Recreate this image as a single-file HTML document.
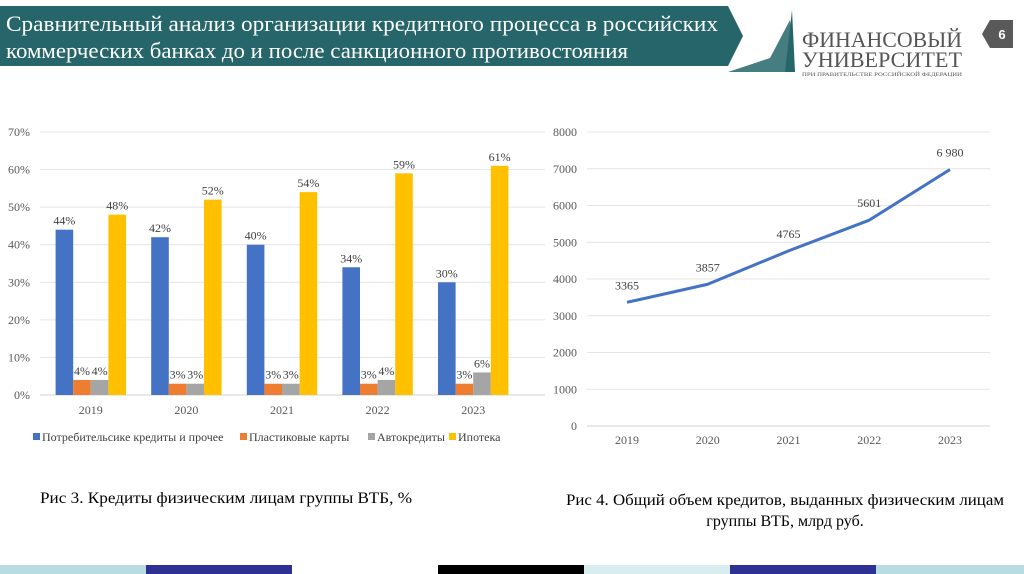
<!DOCTYPE html>
<html><head><meta charset="utf-8"><style>
body{margin:0;width:1024px;height:574px;background:#fff;position:relative;overflow:hidden;font-family:"Liberation Serif",serif}
svg text{font-family:"Liberation Serif",serif}
</style></head><body>
<svg width="1024" height="574" style="position:absolute;left:0;top:0">
<polygon points="0,6 728,6 743,36 728,66 0,66" fill="#26666a"/>
<text x="6" y="31" font-size="22" fill="#fff" textLength="712" lengthAdjust="spacingAndGlyphs">Сравнительный анализ организации кредитного процесса в российских</text>
<text x="6" y="58" font-size="22" fill="#fff" textLength="622" lengthAdjust="spacingAndGlyphs">коммерческих банках до и после санкционного противостояния</text>
<g>
<polygon points="728,72 795,72 790,20 770,58" fill="#26666a" opacity="0.85"/>
<polygon points="785,72 792,10 795,72" fill="#26666a"/>
<text x="802" y="47" font-size="22" fill="#555" textLength="160" lengthAdjust="spacingAndGlyphs">ФИНАНСОВЫЙ</text>
<text x="802" y="67" font-size="22" fill="#555" textLength="160" lengthAdjust="spacingAndGlyphs">УНИВЕРСИТЕТ</text>
<text x="802" y="76" font-size="5" fill="#555" textLength="160" lengthAdjust="spacingAndGlyphs">ПРИ ПРАВИТЕЛЬСТВЕ РОССИЙСКОЙ ФЕДЕРАЦИИ</text>
</g>
<polygon points="982,34 990,20 1013,20 1013,48 990,48" fill="#595959"/>
<text x="1002" y="39" font-size="13" font-weight="bold" fill="#fff" text-anchor="middle" style="font-family:'Liberation Sans',sans-serif">6</text>
<g id="left"></g>
<g id="right"></g>
<text x="40" y="503" font-size="16" fill="#000" textLength="372" lengthAdjust="spacingAndGlyphs">Рис 3. Кредиты физическим лицам группы ВТБ, %</text>
<text x="785" y="505" font-size="16" fill="#000" text-anchor="middle" textLength="438" lengthAdjust="spacingAndGlyphs">Рис 4. Общий объем кредитов, выданных физическим лицам</text>
<text x="785" y="526" font-size="16" fill="#000" text-anchor="middle">группы ВТБ, млрд руб.</text>
<g>
<rect x="0" y="565" width="146" height="9" fill="#b7dde2"/><rect x="146" y="565" width="146" height="9" fill="#2e3192"/>
<rect x="438" y="565" width="146" height="9" fill="#000"/><rect x="584" y="565" width="146" height="9" fill="#d8eded"/>
<rect x="730" y="565" width="146" height="9" fill="#2e3192"/><rect x="876" y="565" width="148" height="9" fill="#b7dde2"/>
</g>
</svg>
<script>
const NS="http://www.w3.org/2000/svg";
const years=["2019","2020","2021","2022","2023"];
const consumer=[44,42,40,34,30];
const cards=[4,3,3,3,3];
const auto=[4,3,3,4,6];
const mortgage=[48,52,54,59,61];
const pctTicks=[0,10,20,30,40,50,60,70];
const totals=[3365,3857,4765,5601,6980];
const totalLabels=["3365","3857","4765","5601","6 980"];
const totalTicks=[0,1000,2000,3000,4000,5000,6000,7000,8000];
function mk(p,t,a,txt){const e=document.createElementNS(NS,t);for(const k in a)e.setAttribute(k,a[k]);if(txt!=null)e.textContent=txt;p.appendChild(e);return e;}
const L=document.getElementById('left');
const ly=v=>395-v*(263/70);
const lx=i=>43+95.6*(i+0.5);
pctTicks.forEach(t=>{
 const g=mk(L,'line',{x1:40,x2:545,y1:ly(t),y2:ly(t),stroke:t?'#e4e4e4':'#d0d0d0'});
 
 const l=mk(L,'text',{x:30,y:ly(t)+4,'font-size':12,fill:'#595959','text-anchor':'end'},t+'%');
 
});
const series=[[consumer,'#4472c4'],[cards,'#ed7d31'],[auto,'#a5a5a5'],[mortgage,'#ffc000']];
const bw=17.6;
years.forEach((y,i)=>{
 series.forEach(([arr,c],s)=>{
  const x=lx(i)-2*bw+s*bw;
  const r=mk(L,'rect',{x:x,y:ly(arr[i]),width:bw,height:ly(0)-ly(arr[i]),fill:c});
  
  const t=mk(L,'text',{x:x+bw/2,y:ly(arr[i])-5,'font-size':12,fill:'#404040','text-anchor':'middle'},arr[i]+'%');
  
 });
 const xl=mk(L,'text',{x:lx(i),y:414,'font-size':12,fill:'#595959','text-anchor':'middle'},y);
 
});
const legItems=["Потребительсике кредиты и прочее","Пластиковые карты","Автокредиты","Ипотека"];
const legX=[33,240,368,449];
legItems.forEach((n,i)=>{
 const r=mk(L,'rect',{x:legX[i],y:433,width:7,height:7,fill:series[i][1]});
 
 const t=mk(L,'text',{x:legX[i]+9,y:441,'font-size':12,fill:'#404040'},n);
 
});
const R=document.getElementById('right');
const ry=v=>426-v*(294/8000);
const rx=i=>627+80.75*i;
totalTicks.forEach(t=>{
 const g=mk(R,'line',{x1:587,x2:990,y1:ry(t),y2:ry(t),stroke:t?'#e4e4e4':'#d0d0d0'});
 
 const l=mk(R,'text',{x:577,y:ry(t)+4,'font-size':12,fill:'#595959','text-anchor':'end'},t);
 
});
const pts=totals.map((v,i)=>rx(i)+','+ry(v)).join(' ');
const pl=mk(R,'polyline',{points:pts,fill:'none',stroke:'#4472c4','stroke-width':3,'stroke-linejoin':'round'});

totals.forEach((v,i)=>{
 const t=mk(R,'text',{x:rx(i),y:ry(v)-13,'font-size':12,fill:'#404040','text-anchor':'middle'},totalLabels[i]);
 
 const x=mk(R,'text',{x:rx(i),y:444,'font-size':12,fill:'#595959','text-anchor':'middle'},years[i]);
 
});
</script>
</body></html>
